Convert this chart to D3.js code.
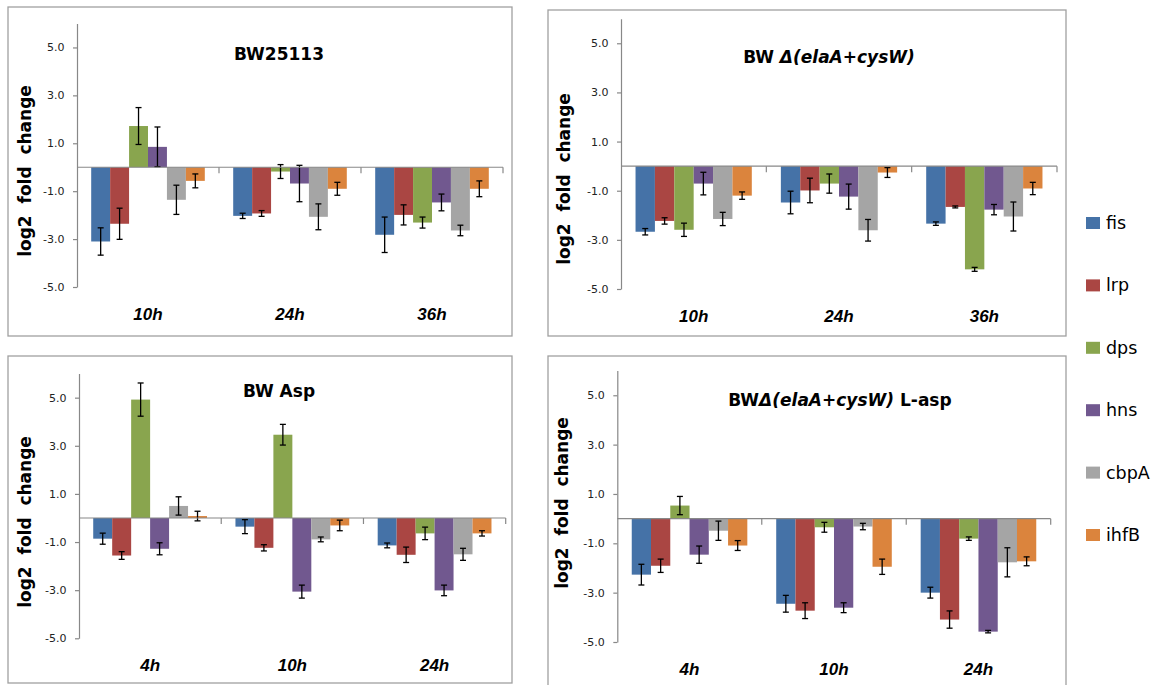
<!DOCTYPE html>
<html>
<head>
<meta charset="utf-8">
<script src="https://cdn.jsdelivr.net/npm/d3@7"></script>
<style>
    body { margin: 0; background: #fff; }
    svg { display: block; }
    text { font-family: "DejaVu Sans", sans-serif; }
</style>
</head>
<body>
<svg id="chart" width="1160" height="685"></svg>
<script>
// genes in the order the bars are drawn inside each group
const genes = ["fis", "lrp", "dps", "hns", "cbpA", "ihfB"];
const geneColors = ["#4572A7", "#AA4643", "#89A54E", "#71588F", "#A5A5A5", "#DB843D"];
const yTicks = [-5, -3, -1, 1, 3, 5];

// BW25113
const bwTimes = ["10h", "24h", "36h"];
const bwMean = [
    [-3.10, -2.36, 1.72, 0.85, -1.36, -0.57],
    [-2.03, -1.93, -0.18, -0.68, -2.07, -0.90],
    [-2.82, -1.99, -2.31, -1.47, -2.64, -0.90]
];
const bwErr = [
    [0.57, 0.65, 0.77, 0.83, 0.61, 0.29],
    [0.11, 0.12, 0.29, 0.76, 0.54, 0.27],
    [0.74, 0.42, 0.23, 0.35, 0.22, 0.33]
];

// BW delta(elaA+cysW)
const delTimes = ["10h", "24h", "36h"];
const delMean = [
    [-2.67, -2.23, -2.59, -0.71, -2.15, -1.20],
    [-1.48, -0.99, -0.71, -1.24, -2.61, -0.26],
    [-2.34, -1.66, -4.20, -1.77, -2.05, -0.91]
];
const delErr = [
    [0.13, 0.13, 0.27, 0.46, 0.27, 0.15],
    [0.46, 0.50, 0.39, 0.51, 0.44, 0.20],
    [0.07, 0.04, 0.08, 0.21, 0.59, 0.25]
];

// BW Asp
const aspTimes = ["4h", "10h", "24h"];
const aspMean = [
    [-0.86, -1.56, 4.92, -1.28, 0.50, 0.08],
    [-0.36, -1.24, 3.46, -3.06, -0.89, -0.31],
    [-1.14, -1.53, -0.64, -3.01, -1.51, -0.64]
];
const aspErr = [
    [0.23, 0.16, 0.69, 0.25, 0.38, 0.20],
    [0.29, 0.13, 0.43, 0.27, 0.10, 0.22],
    [0.10, 0.32, 0.26, 0.22, 0.25, 0.11]
];

// BW delta(elaA+cysW) L-asp
const delAspTimes = ["4h", "10h", "24h"];
const delAspMean = [
    [-2.27, -1.91, 0.53, -1.46, -0.49, -1.09],
    [-3.45, -3.73, -0.35, -3.61, -0.32, -1.95],
    [-3.00, -4.09, -0.81, -4.58, -1.77, -1.73]
];
const delAspErr = [
    [0.42, 0.27, 0.37, 0.35, 0.39, 0.20],
    [0.34, 0.32, 0.20, 0.20, 0.13, 0.31],
    [0.22, 0.35, 0.07, 0.05, 0.59, 0.18]
];

const axisColor = "#888888";

class GroupedBarPanel {
    constructor(svg, opts) {
        this.svg = svg;
        this.opts = opts;
    }

    initialize() {
        const o = this.opts;
        this.g = this.svg.append("g");

        this.g.append("rect")
            .attr("x", o.box[0]).attr("y", o.box[1])
            .attr("width", o.box[2] - o.box[0]).attr("height", o.box[3] - o.box[1])
            .attr("fill", "#fff")
            .attr("stroke", "#a0a0a0")
            .attr("stroke-width", 1.3);

        this.x0 = d3.scaleBand().range([o.left, o.right]).padding(0);
        this.x1 = d3.scaleBand().domain(genes).paddingInner(0).paddingOuter(0.75);
        this.y = d3.scaleLinear().domain([-5, 6]).range([o.bottom, o.top]);

        this.bars = this.g.append("g");
        this.errors = this.g.append("g");
        this.xAxis = this.g.append("g");
        this.yAxis = this.g.append("g");

        const title = this.g.append("text")
            .attr("x", o.titleX).attr("y", o.titleY)
            .attr("text-anchor", "middle")
            .style("font-size", "17px")
            .style("font-weight", "bold");
        o.title.forEach(([t, it]) => {
            title.append("tspan").text(t).style("font-style", it ? "italic" : "normal");
        });

        this.g.append("text")
            .attr("transform", `translate(${o.labelX}, ${o.labelY}) rotate(-90)`)
            .attr("text-anchor", "middle")
            .attr("dominant-baseline", "central")
            .style("white-space", "pre")
            .style("font-size", "17px")
            .style("font-weight", "bold")
            .text("log2  fold  change");
    }

    update(times, means, errs) {
        const o = this.opts;
        this.x0.domain(times);
        this.x1.range([0, this.x0.bandwidth()]);
        const y = this.y;

        const rows = [];
        times.forEach((t, i) => {
            genes.forEach((gname, j) => {
                rows.push({time: t, gene: gname, gi: j, v: means[i][j], e: errs[i][j]});
            });
        });

        this.bars.selectAll("rect")
            .data(rows)
            .join("rect")
            .attr("x", d => this.x0(d.time) + this.x1(d.gene))
            .attr("y", d => y(Math.max(0, d.v)))
            .attr("width", this.x1.bandwidth())
            .attr("height", d => Math.abs(y(d.v) - y(0)))
            .attr("fill", d => geneColors[d.gi]);

        const cx = d => this.x0(d.time) + this.x1(d.gene) + this.x1.bandwidth() / 2;
        const eb = this.errors.selectAll("g")
            .data(rows)
            .join("g")
            .attr("stroke", "#000")
            .attr("stroke-width", 1.3);
        eb.append("line")
            .attr("x1", cx).attr("x2", cx)
            .attr("y1", d => y(d.v + d.e)).attr("y2", d => y(d.v - d.e));
        eb.append("line")
            .attr("x1", d => cx(d) - 3).attr("x2", d => cx(d) + 3)
            .attr("y1", d => y(d.v + d.e)).attr("y2", d => y(d.v + d.e));
        eb.append("line")
            .attr("x1", d => cx(d) - 3).attr("x2", d => cx(d) + 3)
            .attr("y1", d => y(d.v - d.e)).attr("y2", d => y(d.v - d.e));

        // zero line with group separators
        this.xAxis.append("line")
            .attr("x1", o.left).attr("x2", o.right)
            .attr("y1", y(0)).attr("y2", y(0))
            .attr("stroke", axisColor).attr("stroke-width", 1.2);
        this.xAxis.selectAll(".sep")
            .data(times)
            .join("line")
            .attr("class", "sep")
            .attr("x1", d => this.x0(d) + this.x0.bandwidth())
            .attr("x2", d => this.x0(d) + this.x0.bandwidth())
            .attr("y1", y(0)).attr("y2", y(0) + 6)
            .attr("stroke", axisColor).attr("stroke-width", 1.2);

        this.xAxis.selectAll(".cat")
            .data(times)
            .join("text")
            .attr("class", "cat")
            .attr("x", d => this.x0(d) + this.x0.bandwidth() / 2)
            .attr("y", o.bottom + 32.5)
            .attr("text-anchor", "middle")
            .style("font-family", "'Liberation Sans', Arial, sans-serif")
            .style("font-size", "17px")
            .style("font-weight", "bold")
            .style("font-style", "italic")
            .text(d => d);

        this.yAxis
            .attr("transform", `translate(${o.left}, 0)`)
            .call(d3.axisLeft(y).tickValues(yTicks).tickSize(4).tickSizeOuter(0)
                .tickPadding(8.5).tickFormat(d => d.toFixed(1)));
        this.yAxis.select(".domain").attr("stroke", axisColor).attr("stroke-width", 1.2);
        this.yAxis.selectAll(".tick line").attr("stroke", axisColor).attr("stroke-width", 1.2);
        this.yAxis.selectAll(".tick text")
            .attr("fill", "#222")
            .style("font-family", "'DejaVu Sans', sans-serif")
            .style("font-size", "11px");
    }
}

const svg = d3.select("#chart");
svg.append("rect").attr("width", 1160).attr("height", 685).attr("fill", "#fff");

const panels = [
    {box: [8, 7, 512, 336], left: 77, right: 503, top: 23.5, bottom: 287,
     title: [["BW25113", false]], titleX: 279, titleY: 60, labelX: 25, labelY: 171,
     times: bwTimes, means: bwMean, errs: bwErr},
    {box: [548, 10, 1066, 336], left: 621, right: 1057, top: 18.7, bottom: 289,
     title: [["BW ", false], ["\u0394(elaA+cysW)", true]], titleX: 829, titleY: 62.5, labelX: 564, labelY: 179,
     times: delTimes, means: delMean, errs: delErr},
    {box: [8, 356, 512, 683], left: 79, right: 505.7, top: 373.6, bottom: 638.3,
     title: [["BW Asp", false]], titleX: 279, titleY: 396.7, labelX: 25, labelY: 522,
     times: aspTimes, means: aspMean, errs: aspErr},
    {box: [548, 356, 1066, 695], left: 617.3, right: 1050.7, top: 370.6, bottom: 642,
     title: [["BW", false], ["\u0394(elaA+cysW)", true], [" L-asp", false]], titleX: 840, titleY: 405.7, labelX: 562, labelY: 503,
     times: delAspTimes, means: delAspMean, errs: delAspErr}
];

panels.forEach(p => {
    const panel = new GroupedBarPanel(svg, p);
    panel.initialize();
    panel.update(p.times, p.means, p.errs);
});

// legend
const legend = svg.append("g").attr("transform", "translate(1086, 223)");
const rowsL = legend.selectAll("g")
    .data(genes)
    .join("g")
    .attr("transform", (d, i) => `translate(0, ${i * 62.4})`);
rowsL.append("rect")
    .attr("x", 0).attr("y", -6)
    .attr("width", 14).attr("height", 12)
    .attr("fill", (d, i) => geneColors[i]);
rowsL.append("text")
    .attr("x", 20).attr("y", 0)
    .attr("dominant-baseline", "central")
    .style("font-size", "17.5px")
    .text(d => d);
</script>
</body>
</html>
